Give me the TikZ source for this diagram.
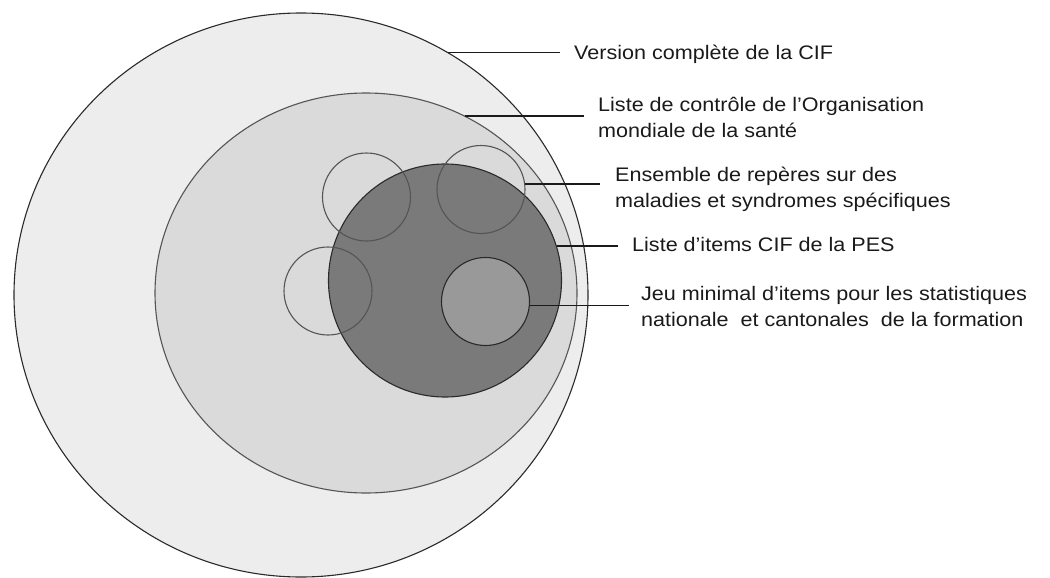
\documentclass[tikz,border=0pt]{standalone}
\usepackage{fontspec}
\setmainfont{Liberation Sans}[FakeStretch=1.1]
\usetikzlibrary{shapes.geometric}
\definecolor{fillouter}{HTML}{EDEDED}
\definecolor{fillmid}{HTML}{DADADA}
\definecolor{filldark}{HTML}{7A7A7A}
\definecolor{fillsmall}{HTML}{999999}
\definecolor{edgeA}{HTML}{2A2A2A}
\definecolor{edgeB}{HTML}{555555}
\definecolor{inkc}{HTML}{1A1A1A}
\tikzset{
  disc/.style={ellipse, inner sep=0pt, line width=1.1pt},
  leader/.style={draw=inkc, line width=1.2pt},
  lbl/.style={anchor=base west, inner sep=0pt, align=left, text=inkc,
    font=\fontsize{19.6pt}{25.6pt}\selectfont},
}
\begin{document}
\begin{tikzpicture}[x=1pt,y=-1pt]
\useasboundingbox (0,0) rectangle (1050,578);
% circles
\node[disc, draw=edgeA, fill=fillouter, minimum width=574pt, minimum height=564pt] (outer) at (301,295) {};
\node[disc, draw=edgeB, fill=fillmid, minimum width=422pt, minimum height=400pt] (mid) at (366,293) {};
\node[disc, draw=edgeA, fill=filldark, minimum width=233pt, minimum height=233pt] (dark) at (445,280.5) {};
\node[disc, draw=edgeA, fill=fillsmall, minimum width=88pt, minimum height=88pt] (minset) at (485.5,301.5) {};
\node[disc, draw=edgeB, minimum width=88pt, minimum height=88pt] (smtl) at (366.5,197) {};
\node[disc, draw=edgeB, minimum width=88pt, minimum height=88pt] (smtr) at (481,189.5) {};
\node[disc, draw=edgeB, minimum width=88pt, minimum height=88pt] (smle) at (328,291) {};
% leader start points
\coordinate (p1) at (448,52.7);
\coordinate (p2) at (464.5,116);
\coordinate (p3) at (524.5,184);
\coordinate (p4) at (556.5,246);
\coordinate (p5) at (529.5,305.7);
\coordinate (q1) at (560,52.7);
\coordinate (q2) at (584,116);
\coordinate (q3) at (600,184);
\coordinate (q4) at (618,246);
\coordinate (q5) at (629,305.7);
% labels (base anchor = baseline of the last line)
\node[lbl] (l1) at (574,59.7) {Version complète de la CIF};
\node[lbl] (l2) at (598,137.3) {Liste de contrôle de l’Organisation\\mondiale de la santé};
\node[lbl] (l3) at (615,207.3) {Ensemble de repères sur des\\maladies et syndromes spécifiques};
\node[lbl] (l4) at (632,251.7) {Liste d’items CIF de la PES};
\node[lbl] (l5) at (641,326.5) {Jeu minimal d’items pour les statistiques\\nationale\ \ et cantonales\ \ de la formation};
% leaders
\draw[leader] (p1) -- (q1);
\draw[leader] (p2) -- (q2);
\draw[leader] (p3) -- (q3);
\draw[leader] (p4) -- (q4);
\draw[leader] (p5) -- (q5);
\end{tikzpicture}
\end{document}
